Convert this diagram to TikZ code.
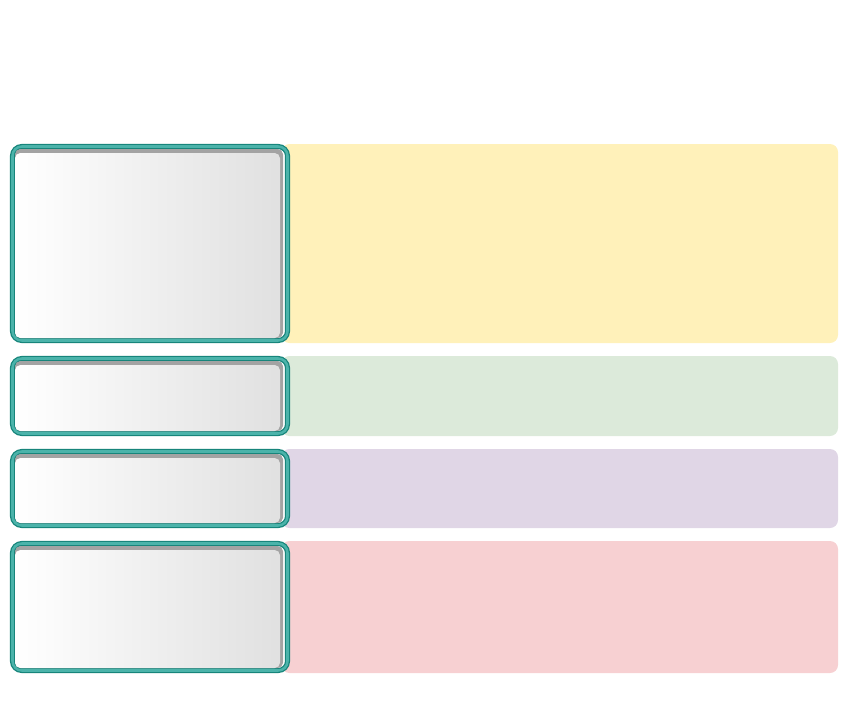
\documentclass[tikz,border=0pt]{standalone}
\definecolor{tealdark}{HTML}{17857B}
\definecolor{teallight}{HTML}{4BB3AA}
\definecolor{shadowgray}{HTML}{A3A3A3}
\definecolor{panelyellow}{HTML}{FFF1BA}
\definecolor{panelgreen}{HTML}{DCEADA}
\definecolor{panelpurple}{HTML}{E0D6E6}
\definecolor{panelpink}{HTML}{F7D0D2}
\begin{document}
\begin{tikzpicture}[x=0.75pt,y=-0.75pt]
  \useasboundingbox (0,0) rectangle (849,722);
  % Geometry
  \def\xL{12.5}
  \def\xM{287.5}
  \def\xR{838}
  % one row per band: top, bottom, colour
  \foreach \yT/\yB/\col in {144/343/panelyellow, 356/436/panelgreen,
                            449/528/panelpurple, 541/673/panelpink}{
    % coloured band on the right
    \fill[\col, rounded corners=6] (\xM-6,\yT) rectangle (\xR,\yB);
    % teal frame of the left box
    \fill[white, rounded corners=7] (\xL,\yT+2.5) rectangle (\xM,\yB-2.5);
    \draw[tealdark, line width=3.8pt, rounded corners=7] (\xL,\yT+2.5) rectangle (\xM,\yB-2.5);
    \draw[teallight, line width=1.9pt, rounded corners=7] (\xL,\yT+2.5) rectangle (\xM,\yB-2.5);
    % inner shadow and gradient face
    \fill[shadowgray, rounded corners=4] (15,\yT+5) rectangle (283,\yB-5);
    \shade[left color=white, right color=black!12, rounded corners=4]
      (15,\yT+9) rectangle (280,\yB-5);
  }
\end{tikzpicture}
\end{document}
